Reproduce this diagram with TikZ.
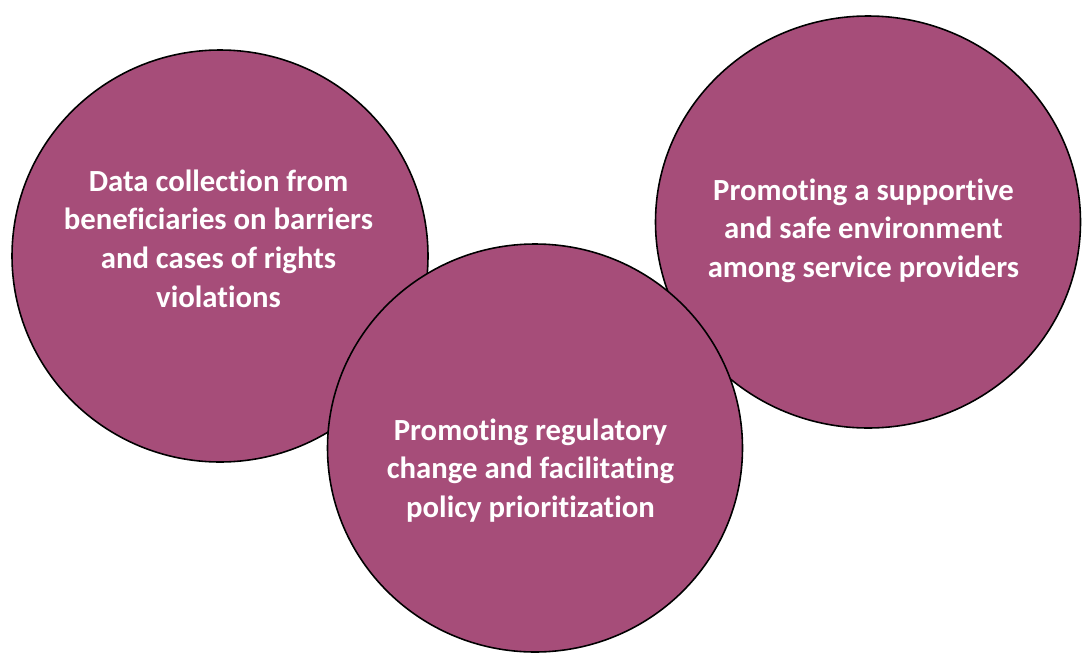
\documentclass[tikz,border=0pt]{standalone}
\usepackage{fontspec}
\setmainfont{Carlito}[Ligatures=NoCommon]
\usetikzlibrary{shapes.geometric}
\definecolor{plum}{RGB}{166,77,121}
\tikzset{
  themecircle/.style={ellipse,draw=black,line width=0.9pt,fill=plum,inner sep=0pt},
  themetext/.style={text=white,font=\fontsize{17.5}{22}\selectfont\bfseries,align=center}
}

\begin{document}
\begin{tikzpicture}[x=0.02cm,y=-0.02cm]
  \useasboundingbox (0,0) rectangle (1082,653);
  % the three themes, bottom one drawn last so it sits on top
  \node[themecircle,minimum width=416*0.02cm,minimum height=412*0.02cm] (data) at (220,256) {};
  \node[themecircle,minimum width=425*0.02cm,minimum height=412*0.02cm] (env) at (868,222) {};
  \node[themecircle,minimum width=415*0.02cm,minimum height=408*0.02cm] (policy) at (535,448) {};
  \node[themetext] (datatext) at (218.5,238.5) {Data collection from\\beneficiaries on barriers\\and cases of rights\\violations};
  \node[themetext] (envtext) at (863.5,230.5) {Promoting a supportive\\and safe environment\\among service providers};
  \node[themetext] (policytext) at (530.5,470.5) {Promoting regulatory\\change and facilitating\\policy prioritization};
\end{tikzpicture}
\end{document}
